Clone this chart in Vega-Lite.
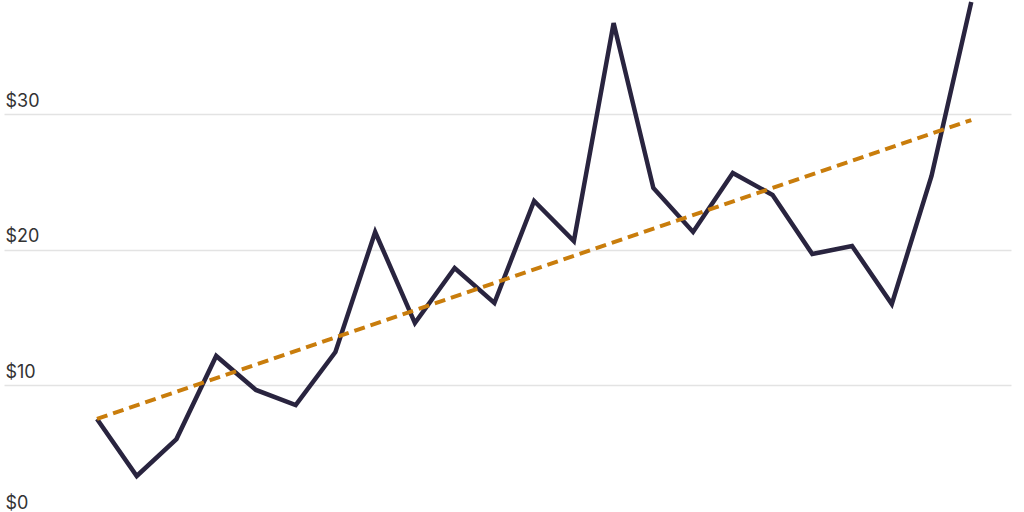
{
  "$schema": "https://vega.github.io/schema/vega-lite/v6.json",
  "width": 1007,
  "height": 521,
  "autosize": {"type": "none"},
  "padding": {"left": 4, "top": 0, "right": 13, "bottom": -9},
  "background": "#ffffff",
  "config": {"view": {"stroke": null}, "font": "Inter"},
  "datasets": {
    "series": [
      {"period": 1, "value": 7.53},
      {"period": 2, "value": 3.32},
      {"period": 3, "value": 6.05},
      {"period": 4, "value": 12.18},
      {"period": 5, "value": 9.67},
      {"period": 6, "value": 8.56},
      {"period": 7, "value": 12.47},
      {"period": 8, "value": 21.33},
      {"period": 9, "value": 14.61},
      {"period": 10, "value": 18.67},
      {"period": 11, "value": 16.09},
      {"period": 12, "value": 23.62},
      {"period": 13, "value": 20.66},
      {"period": 14, "value": 36.75},
      {"period": 15, "value": 24.58},
      {"period": 16, "value": 21.33},
      {"period": 17, "value": 25.68},
      {"period": 18, "value": 24.06},
      {"period": 19, "value": 19.70},
      {"period": 20, "value": 20.30},
      {"period": 21, "value": 16.01},
      {"period": 22, "value": 25.46},
      {"period": 23, "value": 38.30}
    ],
    "trend": [
      {"period": 1, "value": 7.53},
      {"period": 23, "value": 29.59}
    ]
  },
  "encoding": {
    "x": {
      "field": "period",
      "type": "quantitative",
      "scale": {"domain": [-1.34, 24.0], "nice": false, "zero": false},
      "axis": null
    },
    "y": {
      "field": "value",
      "type": "quantitative",
      "scale": {"domain": [0, 38.45], "nice": false},
      "axis": {
        "title": null,
        "values": [0, 10, 20, 30],
        "format": "$,.0f",
        "orient": "left",
        "domain": false,
        "ticks": false,
        "tickSize": 0,
        "labelAlign": "left",
        "labelBaseline": "alphabetic",
        "labelPadding": -1,
        "labelOffset": {"condition": {"test": "datum.value === 0", "value": -13}, "value": -8},
        "labelFont": "Inter",
        "labelFontSize": 18,
        "labelColor": "#333333",
        "grid": true,
        "gridColor": "#e3e3e3",
        "gridWidth": 1.5
      }
    }
  },
  "layer": [
    {
      "data": {"name": "series"},
      "mark": {"type": "line", "color": "#29243f", "strokeWidth": 4.5, "clip": false}
    },
    {
      "data": {"name": "trend"},
      "mark": {"type": "line", "color": "#c97d0c", "strokeWidth": 4, "strokeDash": [11, 6], "clip": false}
    }
  ]
}
